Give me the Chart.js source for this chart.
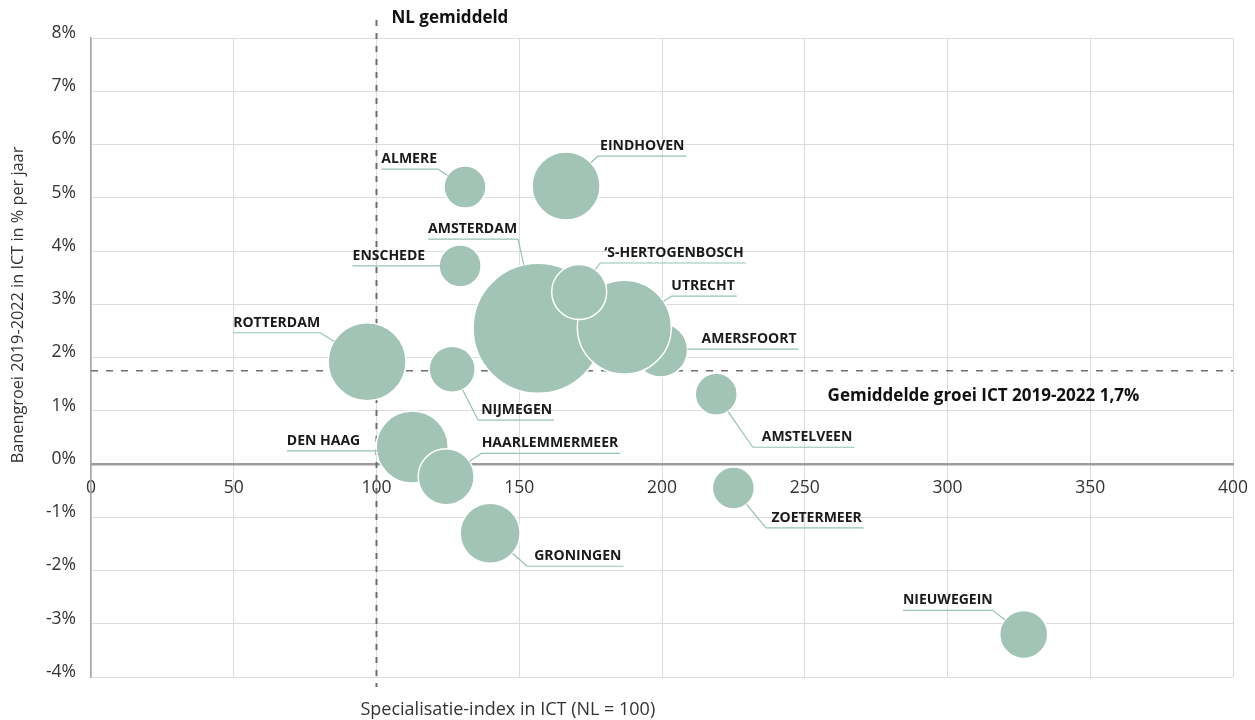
<!DOCTYPE html>
<html>
<head>
<meta charset="utf-8">
<script src="https://cdn.jsdelivr.net/npm/chart.js@4"></script>
<style>
  html, body { margin: 0; padding: 0; background: #fff; }
  #wrap { width: 1255px; height: 720px; }
</style>
</head>
<body>
<div id="wrap"><canvas id="chart"></canvas></div>
<script>
// draw order matters: later bubbles sit on top
const cities = ['AMSTERDAM', 'AMERSFOORT', 'UTRECHT', '‘S-HERTOGENBOSCH', 'EINDHOVEN', 'ALMERE', 'ENSCHEDE',
  'ROTTERDAM', 'NIJMEGEN', 'AMSTELVEEN', 'DEN HAAG', 'HAARLEMMERMEER', 'GRONINGEN', 'ZOETERMEER', 'NIEUWEGEIN'];
const specIndex = [156.6, 199.5, 186.8, 171, 166.4, 131, 129.3, 96.7, 126.5, 219, 112.5, 124.4, 139.8, 225, 326.7];
const jobGrowth = [2.55, 2.14, 2.57, 3.23, 5.22, 5.2, 3.72, 1.92, 1.78, 1.31, 0.32, -0.24, -1.3, -0.45, -3.2];
const bubbleSize = [65, 27, 47, 27.5, 34, 21, 21, 39, 23, 21, 36, 28, 30, 21, 24];

const nlAverage = 100;
const avgGrowth = 1.75;

// label placement: [dx, dy, gap, side] from bubble centre to where the underline meets the leader
const labelPlace = {
  'AMSTERDAM': [-20, -89, 1, 'L'],
  'AMERSFOORT': [28, -1, 13, 'R'],
  'UTRECHT': [47, -31, 0, 'R'],
  '‘S-HERTOGENBOSCH': [21, -29, 4, 'R'],
  'EINDHOVEN': [32, -30, 2, 'R'],
  'ALMERE': [-27, -18, 1, 'L'],
  'ENSCHEDE': [-20, 0, 15, 'L'],
  'ROTTERDAM': [-47, -29, 0, 'L'],
  'NIJMEGEN': [26, 51, 3, 'R'],
  'AMSTELVEEN': [36.5, 53, 9, 'R'],
  'DEN HAAG': [-35, 4, 17, 'L'],
  'HAARLEMMERMEER': [35.5, -23.5, 0, 'R'],
  'GRONINGEN': [37, 33, 7, 'R'],
  'ZOETERMEER': [32.5, 40, 5.5, 'R'],
  'NIEUWEGEIN': [-31, -24, 0, 'L']
};

const noPad = (s) => { s.paddingLeft = 0; s.paddingRight = 0; s.paddingTop = 0; s.paddingBottom = 0; };

const refLines = {
  id: 'refLines',
  beforeDatasetsDraw(chart) {
    const { ctx, chartArea: a, scales: { x, y } } = chart;
    ctx.save();
    const gy = y.getPixelForValue(avgGrowth);
    ctx.strokeStyle = '#6e6e6e';
    ctx.lineWidth = 1.5;
    ctx.setLineDash([7, 8]);
    ctx.beginPath();
    ctx.moveTo(a.left, gy);
    ctx.lineTo(a.right, gy);
    ctx.stroke();

    const nx = x.getPixelForValue(nlAverage);
    ctx.lineWidth = 2;
    ctx.setLineDash([6, 7]);
    ctx.beginPath();
    ctx.moveTo(nx, a.top - 18);
    ctx.lineTo(nx, a.bottom + 10);
    ctx.stroke();
    ctx.setLineDash([]);

    ctx.fillStyle = '#111';
    ctx.font = 'bold 17px "Open Sans"';
    ctx.textBaseline = 'middle';
    ctx.textAlign = 'left';
    ctx.fillText('NL gemiddeld', nx + 15, a.top - 20);
    ctx.fillText('Gemiddelde groei ICT 2019-2022 1,7%', x.getPixelForValue(258), gy + 25);
    ctx.restore();
  },
  afterDatasetsDraw(chart) {
    const { ctx } = chart;
    const pts = chart.getDatasetMeta(0).data;
    ctx.save();
    ctx.font = 'bold 14px "Open Sans"';
    ctx.textBaseline = 'alphabetic';
    ctx.textAlign = 'left';
    ctx.strokeStyle = '#95c3af';
    ctx.lineWidth = 1.2;
    cities.forEach((name, i) => {
      const p = pts[i];
      const r = bubbleSize[i];
      const [dx, dy, gap, side] = labelPlace[name];
      const ax = p.x + dx, ay = p.y + dy;
      const w = ctx.measureText(name).width;
      let tx, u1, u2;
      if (side === 'R') { tx = ax + gap; u1 = ax; u2 = tx + w + 2; }
      else { tx = ax - gap - w; u1 = tx; u2 = ax; }
      ctx.beginPath();
      ctx.moveTo(u1, ay);
      ctx.lineTo(u2, ay);
      const d = Math.hypot(dx, dy);
      if (d > r) {
        ctx.moveTo(ax, ay);
        ctx.lineTo(p.x + dx / d * r, p.y + dy / d * r);
      }
      ctx.stroke();
      ctx.fillStyle = '#1a1a1a';
      ctx.fillText(name, tx, ay - 6);
    });
    ctx.restore();
  },
  afterDraw(chart) {
    const { ctx, chartArea: a, scales: { x } } = chart;
    ctx.save();
    ctx.fillStyle = '#333';
    ctx.textAlign = 'center';
    ctx.textBaseline = 'middle';
    ctx.font = '18px "Open Sans"';
    ctx.fillText('Specialisatie-index in ICT (NL = 100)', x.getPixelForValue(146), a.bottom + 33);
    // y axis title, drawn by hand (sits above the middle in the original)
    ctx.font = '16.3px "Open Sans"';
    ctx.translate(18, a.top + 267);
    ctx.rotate(-Math.PI / 2);
    ctx.fillText('Banengroei 2019-2022 in ICT in % per jaar', 0, 0);
    ctx.restore();
  }
};

const data = {
  datasets: [{
    label: 'ICT',
    data: cities.map((c, i) => ({ x: specIndex[i], y: jobGrowth[i], r: bubbleSize[i] })),
    backgroundColor: '#a2c4b6',
    borderColor: '#ffffff',
    borderWidth: 1.5,
    hoverRadius: 0,
    hoverBorderWidth: 1.5
  }]
};

const config = {
  type: 'bubble',
  data: data,
  options: {
    responsive: true,
    maintainAspectRatio: false,
    animation: false,
    events: [],
    layout: { autoPadding: false, padding: { top: 38, right: 22, bottom: 43, left: 0 } },
    plugins: {
      legend: { display: false },
      tooltip: { enabled: false }
    },
    scales: {
      x: {
        type: 'linear',
        position: { y: 0 },
        min: 0,
        max: 400,
        ticks: {
          stepSize: 50,
          padding: 14,
          color: '#333',
          font: { family: '"Open Sans"', size: 17.5 }
        },
        grid: { color: '#dcdcdc', lineWidth: 1, drawTicks: false },
        border: { color: '#9d9d9d', width: 2.5 },
        afterFit: noPad
      },
      y: {
        type: 'linear',
        min: -4,
        max: 8,
        ticks: {
          stepSize: 1,
          padding: 15,
          labelOffset: -5,
          color: '#333',
          font: { family: '"Open Sans"', size: 17.5 },
          callback: (v) => v + '%'
        },
        grid: {
          color: (c) => c.tick && c.tick.value === 0 ? 'rgba(0,0,0,0)' : '#dcdcdc',
          lineWidth: 1,
          drawTicks: false
        },
        border: { color: '#a6a6a6', width: 1.5 },
        afterFit: (s) => { noPad(s); s.width = 91; }
      }
    }
  },
  plugins: [refLines]
};

const chart = new Chart(document.getElementById('chart'), config);
</script>
</body>
</html>
